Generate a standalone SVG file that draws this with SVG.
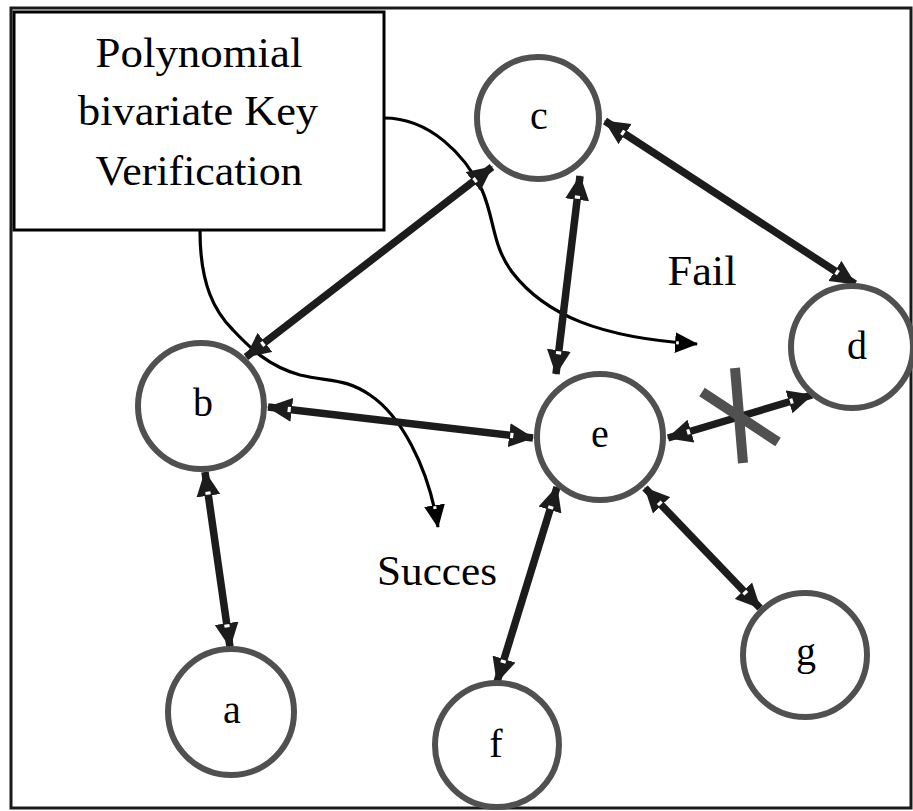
<svg xmlns="http://www.w3.org/2000/svg" width="913" height="811" viewBox="0 0 913 811">
<style>
.node{fill:#fff;stroke:#505050;stroke-width:6}
.lbl{font-family:"Liberation Serif","Times New Roman",serif;font-size:40px;fill:#000;text-anchor:middle}
.txt{font-family:"Liberation Serif","Times New Roman",serif;font-size:42px;fill:#000}
.edge{stroke:#1c1c1c;stroke-width:7.5;fill:none;marker-start:url(#ah);marker-end:url(#ah)}
.curve{stroke:#000;stroke-width:3.2;fill:none;marker-end:url(#th)}
.cross{stroke:#505050;stroke-width:10;stroke-linecap:butt}
</style>
<defs>
<marker id="ah" markerUnits="userSpaceOnUse" viewBox="0 0 24 24" refX="23" refY="12" markerWidth="25" markerHeight="25" orient="auto-start-reverse">
<path d="M0,0.5 L24,12 L0,23.5 Z" fill="#1c1c1c"/>
<rect x="1" y="9.5" width="3" height="5" fill="#fff"/>
</marker>
<marker id="th" markerUnits="userSpaceOnUse" viewBox="0 0 22 22" refX="21" refY="11" markerWidth="23" markerHeight="23" orient="auto">
<path d="M0,1 L22,11 L0,21 Z" fill="#000"/>
<rect x="1" y="9.5" width="2.5" height="3" fill="#fff"/>
</marker>
</defs>
<rect x="11" y="8" width="900" height="800" fill="#fff" stroke="#1a1a1a" stroke-width="3"/>
<g id="box">
<rect x="14" y="12" width="370" height="218" fill="#fff" stroke="#000" stroke-width="3"/>
<text class="txt" x="199" y="67" text-anchor="middle" textLength="207" lengthAdjust="spacingAndGlyphs">Polynomial</text>
<text class="txt" x="198" y="125" text-anchor="middle" textLength="240" lengthAdjust="spacingAndGlyphs">bivariate Key</text>
<text class="txt" x="199" y="185" text-anchor="middle" textLength="207" lengthAdjust="spacingAndGlyphs">Verification</text>
</g>
<g id="connectors">
<path class="curve" d="M384,118 C430,118 465,155 482,190 C495,220 492,245 512,272 C545,315 600,338 697,344"/>
<path class="curve" d="M200,231 C200,285 215,312 233,330 C250,348 268,366 300,375 C330,382 345,378 370,395 C400,415 428,465 438,527"/>
<line class="edge" x1="492" y1="167" x2="246" y2="357"/>
<line class="edge" x1="580" y1="176" x2="556" y2="374"/>
<line class="edge" x1="605" y1="121" x2="855" y2="284"/>
<line class="edge" x1="268" y1="407" x2="533" y2="438"/>
<line class="edge" x1="205" y1="472" x2="230" y2="647"/>
<line class="edge" x1="668" y1="438" x2="812" y2="395"/>
<line class="edge" x1="557" y1="487" x2="497" y2="682"/>
<line class="edge" x1="645" y1="488" x2="760" y2="608"/>
<line class="cross" x1="735" y1="368" x2="743" y2="463"/>
<line class="cross" x1="702" y1="392" x2="778" y2="442"/>
</g>
<g id="node-c"><circle class="node" cx="538" cy="118" r="61"/><text class="lbl" x="539" y="129">c</text></g>
<g id="node-b"><circle class="node" cx="201" cy="406" r="63"/><text class="lbl" x="203" y="416">b</text></g>
<g id="node-e"><circle class="node" cx="600" cy="437" r="63"/><text class="lbl" x="600" y="447">e</text></g>
<g id="node-d"><circle class="node" cx="852" cy="347" r="61"/><text class="lbl" x="857" y="359">d</text></g>
<g id="node-a"><circle class="node" cx="231" cy="712" r="63"/><text class="lbl" x="232" y="723">a</text></g>
<g id="node-f"><circle class="node" cx="497" cy="745" r="62"/><text class="lbl" x="496" y="757">f</text></g>
<g id="node-g"><circle class="node" cx="805" cy="655" r="62"/><text class="lbl" x="806" y="665">g</text></g>
<g id="labels">
<text class="txt" x="702" y="285" text-anchor="middle" textLength="69" lengthAdjust="spacingAndGlyphs">Fail</text>
<text class="txt" x="437" y="585" text-anchor="middle" textLength="120" lengthAdjust="spacingAndGlyphs">Succes</text>
</g>
</svg>
